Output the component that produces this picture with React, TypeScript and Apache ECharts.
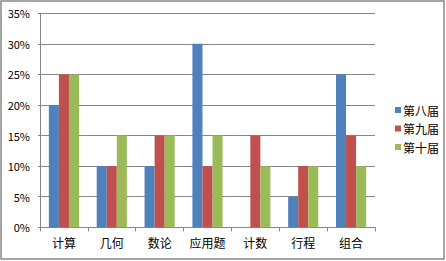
import React, { useEffect, useRef } from "react";
import * as echarts from "echarts";

const categories = ["计算", "几何", "数论", "应用题", "计数", "行程", "组合"];
const seriesNames = ["第八届", "第九届", "第十届"];
const s8 = [20, 10, 10, 30, 0, 5, 25];
const s9 = [25, 10, 15, 10, 15, 10, 15];
const s10 = [25, 15, 15, 15, 10, 10, 10];
const colors = ["#4F81BD", "#C0504D", "#9BBB59"];

export default function App() {
  const ref = useRef<HTMLDivElement>(null);
  useEffect(() => {
    const chart = echarts.init(ref.current!, null, { renderer: "svg" });
    const font = "'Noto Sans CJK SC', 'Microsoft YaHei', sans-serif";
    const data = [s8, s9, s10];
    chart.setOption({
      animation: false,
      backgroundColor: "#ffffff",
      textStyle: { fontFamily: font },
      grid: { left: 40, right: 71, top: 13.3, bottom: 33.7, containLabel: false },
      legend: {
        orient: "vertical",
        left: 390,
        top: 99,
        itemWidth: 6,
        itemHeight: 6,
        itemGap: 6.5,
        icon: "rect",
        textStyle: { fontSize: 12, color: "#000", fontFamily: font, padding: [0, 0, 0, -3] },
        data: seriesNames,
      },
      xAxis: {
        type: "category",
        data: categories,
        axisLine: { lineStyle: { color: "#868686", width: 1 } },
        axisTick: { show: true, length: 4, lineStyle: { color: "#868686" } },
        axisLabel: { fontSize: 12, color: "#000", margin: 9, fontFamily: font },
      },
      yAxis: {
        type: "value",
        min: 0,
        max: 35,
        interval: 5,
        axisLine: { show: true, lineStyle: { color: "#868686", width: 1 } },
        axisTick: { show: true, length: 2, lineStyle: { color: "#868686" } },
        axisLabel: { fontSize: 11, color: "#000", margin: 10, formatter: "{value}%", fontFamily: font },
        splitLine: { lineStyle: { color: "#868686", width: 1 } },
      },
      series: seriesNames.map((name, i) => ({
        name,
        type: "bar",
        data: data[i],
        barGap: "0%",
        barCategoryGap: "37%",
        itemStyle: { color: colors[i] },
      })),
      graphic: [
        {
          type: "rect",
          shape: { x: 1, y: 1, width: 443, height: 258 },
          style: { fill: "none", stroke: "#888888", lineWidth: 1.5 },
          silent: true,
        },
      ],
    });
    return () => chart.dispose();
  }, []);
  return (
    <div
      ref={ref}
      style={{ position: "fixed", left: 0, top: 0, width: 446, height: 261 }}
    />
  );
}
